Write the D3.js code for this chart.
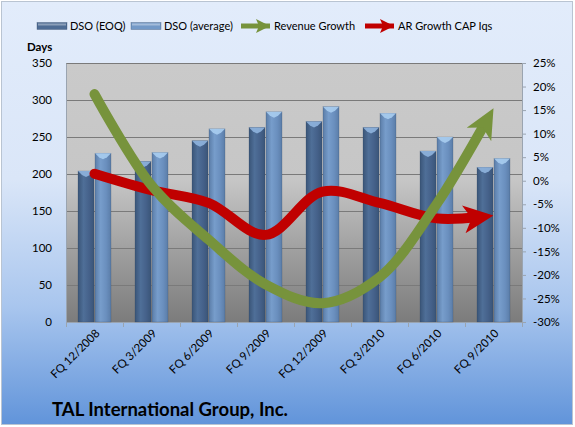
<!DOCTYPE html>
<html>
<head>
<meta charset="utf-8">
<script src="https://cdn.jsdelivr.net/npm/d3@7"></script>
<style>
  body { margin: 0; background: #fff; }
  text { font-family: Lato, "Open Sans", sans-serif; fill: #000; }
</style>
</head>
<body>
<div id="chart"></div>
<script>
const categories = ["FQ 12/2008", "FQ 3/2009", "FQ 6/2009", "FQ 9/2009",
  "FQ 12/2009", "FQ 3/2010", "FQ 6/2010", "FQ 9/2010"];
const dsoEoq = [204, 217, 245, 263, 271, 263, 231, 209];
const dsoAverage = [228, 229, 261, 284, 291, 282, 250, 221];
const revenueGrowth = [18.4, -1, -12.5, -22, -26, -20.5, -5, 15.4];
const arGrowth = [1.5, -2, -4.7, -11.5, -2.3, -4.7, -8, -7.4];
const daysTicks = [0, 50, 100, 150, 200, 250, 300, 350];
const pctTicks = [-30, -25, -20, -15, -10, -5, 0, 5, 10, 15, 20, 25];

const width = 575, height = 427;
const margin = { top: 63, right: 53, bottom: 105, left: 66 };
const innerW = width - margin.left - margin.right;
const innerH = height - margin.top - margin.bottom; // 259

const GREEN = "#77933C", RED = "#C00000";

const svg = d3.select("#chart").append("svg")
  .attr("width", width)
  .attr("height", height);

const defs = svg.append("defs");

// background gradient (pale blue -> deeper blue)
const bg = defs.append("linearGradient").attr("id", "bgGrad")
  .attr("x1", 0).attr("y1", 0).attr("x2", 0).attr("y2", 1);
bg.append("stop").attr("offset", "0%").attr("stop-color", "#E2ECFB");
bg.append("stop").attr("offset", "42%").attr("stop-color", "#DAE6F8");
bg.append("stop").attr("offset", "72%").attr("stop-color", "#A9C6EE");
bg.append("stop").attr("offset", "100%").attr("stop-color", "#6194DA");

// plot area gradient (light gray -> dark gray)
const pg = defs.append("linearGradient").attr("id", "plotGrad")
  .attr("x1", 0).attr("y1", 0).attr("x2", 0).attr("y2", 1);
pg.append("stop").attr("offset", "0%").attr("stop-color", "#CACACA");
pg.append("stop").attr("offset", "45%").attr("stop-color", "#C6C6C6");
pg.append("stop").attr("offset", "75%").attr("stop-color", "#9C9C9C");
pg.append("stop").attr("offset", "100%").attr("stop-color", "#7C7C7C");

const makeBarGrad = (id, edge, mid, light) => {
  const g = defs.append("linearGradient").attr("id", id)
    .attr("x1", 0).attr("y1", 0).attr("x2", 1).attr("y2", 0);
  g.append("stop").attr("offset", "0%").attr("stop-color", edge);
  g.append("stop").attr("offset", "35%").attr("stop-color", light);
  g.append("stop").attr("offset", "70%").attr("stop-color", mid);
  g.append("stop").attr("offset", "100%").attr("stop-color", edge);
};
makeBarGrad("eoqGrad", "#3A5578", "#45618A", "#4F6F98");
makeBarGrad("avgGrad", "#5B7DA8", "#6A8FBE", "#779DCB");

const makeArrow = (id, color, len, h, notch) => {
  defs.append("marker").attr("id", id)
    .attr("markerUnits", "userSpaceOnUse")
    .attr("viewBox", `0 0 ${len} ${h}`)
    .attr("markerWidth", len).attr("markerHeight", h)
    .attr("refX", len).attr("refY", h / 2)
    .attr("orient", "auto")
    .append("path")
    .attr("d", `M0,0 L${len},${h / 2} L0,${h} L${notch},${h / 2} Z`)
    .attr("fill", color);
};
makeArrow("arrowGreen", GREEN, 30, 28, 8);
makeArrow("arrowRed", RED, 30, 28, 8);
makeArrow("legGreen", GREEN, 14, 14, 3);
makeArrow("legRed", RED, 14, 14, 3);

svg.append("rect")
  .attr("x", 1.5).attr("y", 1.5)
  .attr("width", width - 4).attr("height", height - 4)
  .attr("fill", "url(#bgGrad)")
  .attr("stroke", "#B9C4D2");

const g = svg.append("g")
  .attr("transform", `translate(${margin.left},${margin.top})`);

const x = d3.scaleBand().domain(categories).range([0, innerW]);
const y = d3.scaleLinear().domain([0, 350]).range([innerH, 0]);
const yPct = d3.scaleLinear().domain([-30, 25]).range([innerH, 0]);

g.append("rect")
  .attr("width", innerW).attr("height", innerH)
  .attr("fill", "url(#plotGrad)");

// gridlines
g.append("g").selectAll("line")
  .data(daysTicks.filter(d => d > 0))
  .join("line")
  .attr("x1", 0).attr("x2", innerW)
  .attr("y1", d => Math.round(y(d)) + 0.5).attr("y2", d => Math.round(y(d)) + 0.5)
  .attr("stroke", "#7A7A7A");

// axes
const leftAxis = g.append("g")
  .call(d3.axisLeft(y).tickValues(daysTicks).tickSize(0).tickPadding(14));
const rightAxis = g.append("g")
  .attr("transform", `translate(${innerW},0)`)
  .call(d3.axisRight(yPct).tickValues(pctTicks).tickSize(4).tickPadding(7)
    .tickFormat(d => d + "%"));
const bottomAxis = g.append("g")
  .attr("transform", `translate(0,${innerH})`)
  .call(d3.axisBottom(x).tickSize(0).tickFormat(""));

[leftAxis, rightAxis, bottomAxis].forEach(a => {
  a.select(".domain").attr("stroke", "#9AA4B0");
  a.selectAll(".tick line").attr("stroke", "#9AA4B0");
  a.selectAll("text").style("font-size", "11.5px").attr("fill", "#000")
    .style("font-family", "Lato, sans-serif");
});

// category boundary ticks
bottomAxis.selectAll(".boundary")
  .data(d3.range(categories.length + 1))
  .join("line")
  .attr("x1", i => i * x.step() + 0.5).attr("x2", i => i * x.step() + 0.5)
  .attr("y1", 0).attr("y2", 5)
  .attr("stroke", "#9AA4B0");

// rotated category labels
bottomAxis.selectAll(".cat")
  .data(categories)
  .join("text")
  .attr("class", "cat")
  .attr("transform", d => `translate(${x(d) + x.bandwidth() / 2 + 6},${12}) rotate(-45)`)
  .attr("text-anchor", "end")
  .style("font-size", "11.5px")
  .style("font-family", "Lato, sans-serif")
  .text(d => d);

// bars
const barW = 16;
const series = [
  { name: "eoq", values: dsoEoq, fill: "url(#eoqGrad)", cap: "#8FB4DE", offset: -17 },
  { name: "avg", values: dsoAverage, fill: "url(#avgGrad)", cap: "#A9CDEF", offset: 0 }
];
series.forEach(s => {
  const bars = g.append("g");
  const cx = (d, i) => x(categories[i]) + x.bandwidth() / 2 + 0.5 + s.offset;
  bars.selectAll("rect")
    .data(s.values)
    .join("rect")
    .attr("x", cx)
    .attr("y", d => y(d))
    .attr("width", barW)
    .attr("height", d => innerH - y(d))
    .attr("fill", s.fill)
    .attr("stroke", "rgba(40,60,90,0.35)")
    .attr("stroke-width", 0.6);
  bars.selectAll("path")
    .data(s.values)
    .join("path")
    .attr("d", (d, i) => {
      const x0 = cx(d, i), y0 = y(d);
      return `M${x0},${y0} L${x0 + barW},${y0} L${x0 + barW - 4},${y0 + 4} L${x0 + barW / 2},${y0 + 6} L${x0 + 4},${y0 + 4} Z`;
    })
    .attr("fill", s.cap)
    .attr("opacity", 0.9);
});

// smoothed lines with arrow heads
const line = d3.line()
  .x((d, i) => x(categories[i]) + x.bandwidth() / 2)
  .y(d => yPct(d))
  .curve(d3.curveCatmullRom.alpha(0.5));

const drawArrowLine = (values, color, marker) => {
  const p = g.append("path")
    .attr("d", line(values))
    .attr("fill", "none")
    .attr("stroke", color)
    .attr("stroke-width", 10)
    .attr("stroke-linecap", "round")
    .attr("stroke-linejoin", "round");
  const len = p.node().getTotalLength();
  p.attr("stroke-dasharray", `${len - 14},${len}`)
    .attr("marker-end", `url(#${marker})`);
};
drawArrowLine(arGrowth, RED, "arrowRed");
drawArrowLine(revenueGrowth, GREEN, "arrowGreen");

// legend
const legend = svg.append("g").attr("transform", "translate(0,26)");
const legItems = [
  { label: "DSO (EOQ)", type: "bar", fill: "#4E6C94", x: 37 },
  { label: "DSO (average)", type: "bar", fill: "#7399C7", x: 131 },
  { label: "Revenue Growth", type: "arrow", color: GREEN, marker: "legGreen", x: 241 },
  { label: "AR Growth CAP Iqs", type: "arrow", color: RED, marker: "legRed", x: 365 }
];
legItems.forEach(it => {
  const gi = legend.append("g").attr("transform", `translate(${it.x},0)`);
  if (it.type === "bar") {
    gi.append("rect").attr("x", 0).attr("y", -3.5).attr("width", 30).attr("height", 7)
      .attr("fill", it.fill).attr("stroke", "rgba(40,60,90,0.5)").attr("stroke-width", 0.6);
    gi.append("rect").attr("x", 1).attr("y", -2.5).attr("width", 28).attr("height", 2)
      .attr("fill", "#fff").attr("opacity", 0.35);
  } else {
    gi.append("line").attr("x1", 0).attr("x2", 29).attr("y1", 0).attr("y2", 0)
      .attr("stroke", it.color).attr("stroke-width", 5)
      .attr("marker-end", `url(#${it.marker})`);
  }
  gi.append("text")
    .attr("x", 33).attr("y", 0).attr("dy", "0.35em")
    .style("font-size", "11px")
    .text(it.label);
});

// axis title
svg.append("text")
  .attr("x", 27).attr("y", 51)
  .style("font-size", "11.5px").style("font-weight", "bold")
  .text("Days");

// chart title
svg.append("text")
  .attr("x", 52).attr("y", 416)
  .style("font-size", "18.5px").style("font-weight", "bold")
  .text("TAL International Group, Inc.");
</script>
</body>
</html>
